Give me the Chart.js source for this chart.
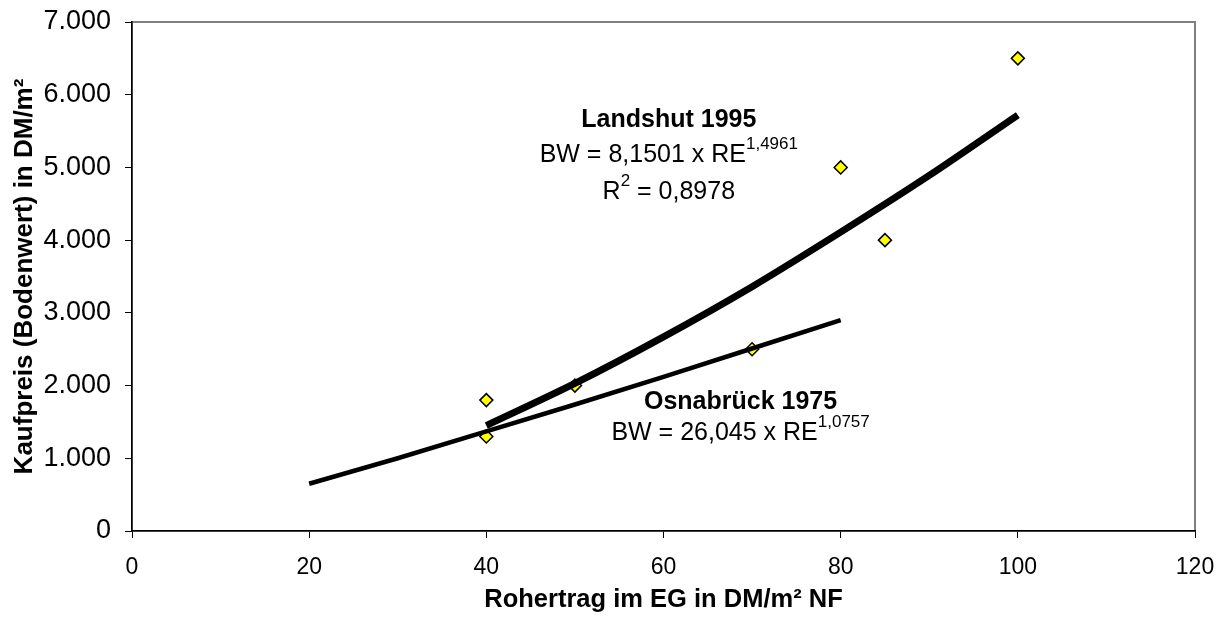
<!DOCTYPE html>
<html>
<head>
<meta charset="utf-8">
<script src="https://cdn.jsdelivr.net/npm/chart.js@4.4.1/dist/chart.umd.min.js"></script>
<style>
  html, body { margin: 0; padding: 0; background: #fff; }
  canvas { display: block; }
</style>
</head>
<body>
<canvas id="bwChart" width="1223" height="626"></canvas>
<script>
// observed sales (Rohertrag / Kaufpreis)
const obsX = [40, 40, 50, 70, 80, 85, 100];
const obsY = [1800, 1300, 2000, 2500, 5000, 4000, 6500];

// trend lines
const landshutX = [40, 50, 60, 70, 80, 90, 100];
const landshutY = [1450, 2030, 2670, 3360, 4110, 4890, 5720];
const osnaX = [20, 30, 40, 50, 60, 70, 80];
const osnaY = [650, 1000, 1370, 1740, 2120, 2510, 2900];

const xTicks = [0, 20, 40, 60, 80, 100, 120];
const yTicks = [0, 1000, 2000, 3000, 4000, 5000, 6000, 7000];

const FONT = '"Liberation Sans", Arial, sans-serif';

function toPoints(xs, ys) {
  return xs.map(function (x, i) { return { x: x, y: ys[i] }; });
}

function fmtDE(v) {
  return String(v).replace(/\B(?=(\d{3})+(?!\d))/g, '.');
}

// plot area frame (gray), axes are drawn black over it
const frame = {
  id: 'frame',
  beforeDraw(chart) {
    const a = chart.chartArea, ctx = chart.ctx;
    ctx.save();
    ctx.strokeStyle = '#808080';
    ctx.lineWidth = 2;
    ctx.strokeRect(a.left, a.top, a.right - a.left, a.bottom - a.top);
    ctx.restore();
  }
};

// equation labels: parts [text, isSuperscript]
const labels = [
  { x: 60.6, y: 5650, bold: true, parts: [['Landshut 1995', false]] },
  { x: 60.6, y: 5170, bold: false, parts: [['BW = 8,1501 x RE', false], ['1,4961', true]] },
  { x: 60.6, y: 4660, bold: false, parts: [['R', false], ['2', true], [' = 0,8978', false]] },
  { x: 68.7, y: 1775, bold: true, parts: [['Osnabrück 1975', false]] },
  { x: 68.7, y: 1340, bold: false, parts: [['BW = 26,045 x RE', false], ['1,0757', true]] }
];

const eqLabels = {
  id: 'eqLabels',
  afterDatasetsDraw(chart) {
    const ctx = chart.ctx;
    const sx = chart.scales.x, sy = chart.scales.y;
    ctx.save();
    ctx.fillStyle = '#000';
    ctx.textBaseline = 'middle';
    ctx.textAlign = 'left';
    labels.forEach(function (lab) {
      const big = (lab.bold ? 'bold ' : '') + '25px ' + FONT;
      const small = '17px ' + FONT;
      let total = 0;
      lab.parts.forEach(function (p) {
        ctx.font = p[1] ? small : big;
        total += ctx.measureText(p[0]).width;
      });
      let px = sx.getPixelForValue(lab.x) - total / 2;
      const py = sy.getPixelForValue(lab.y);
      lab.parts.forEach(function (p) {
        ctx.font = p[1] ? small : big;
        ctx.fillText(p[0], px, p[1] ? py - 11 : py);
        px += ctx.measureText(p[0]).width;
      });
    });
    ctx.restore();
  }
};

var ctx = document.getElementById('bwChart').getContext('2d');
var chart = new Chart(ctx, {
  type: 'scatter',
  data: {
    datasets: [
      {
        label: 'Landshut 1995',
        data: toPoints(landshutX, landshutY),
        showLine: true,
        borderColor: '#000',
        borderWidth: 7,
        tension: 0.3,
        pointRadius: 0,
        pointHoverRadius: 0
      },
      {
        label: 'Osnabrück 1975',
        data: toPoints(osnaX, osnaY),
        showLine: true,
        borderColor: '#000',
        borderWidth: 4.5,
        pointRadius: 0,
        pointHoverRadius: 0
      },
      {
        label: 'Kauffälle',
        data: toPoints(obsX, obsY),
        pointStyle: 'rectRot',
        pointRadius: 6.5,
        pointBackgroundColor: '#ffff00',
        pointBorderColor: '#000',
        pointBorderWidth: 1.5
      }
    ]
  },
  options: {
    responsive: false,
    animation: false,
    layout: { autoPadding: false, padding: { left: 0, top: 22, right: 28, bottom: 0 } },
    plugins: {
      legend: { display: false },
      tooltip: { enabled: false }
    },
    scales: {
      x: {
        type: 'linear',
        min: 0,
        max: 120,
        afterFit: function (s) {
          s.height = 95;
          s.paddingLeft = 0;
          s.paddingRight = 0;
        },
        afterBuildTicks: function (s) { s.ticks = xTicks.map(function (v) { return { value: v }; }); },
        grid: { drawOnChartArea: false, drawTicks: true, tickLength: 7, color: '#000' },
        border: { display: true, color: '#000', width: 1.5 },
        ticks: { color: '#000', padding: 16, font: { family: FONT, size: 23 } },
        title: {
          display: true,
          text: 'Rohertrag im EG in DM/m² NF',
          color: '#000',
          font: { family: FONT, size: 25.5, weight: 'bold' },
          padding: { bottom: 10.5 }
        }
      },
      y: {
        type: 'linear',
        min: 0,
        max: 7000,
        afterFit: function (s) {
          s.width = 132;
          s.paddingTop = 0;
          s.paddingBottom = 0;
        },
        afterBuildTicks: function (s) { s.ticks = yTicks.map(function (v) { return { value: v }; }); },
        grid: { drawOnChartArea: false, drawTicks: true, tickLength: 7, color: '#000' },
        border: { display: true, color: '#000', width: 1.5 },
        ticks: {
          color: '#000',
          padding: 14,
          font: { family: FONT, size: 27 },
          callback: function (v) { return fmtDE(v); }
        },
        title: {
          display: true,
          text: 'Kaufpreis (Bodenwert) in DM/m²',
          color: '#000',
          font: { family: FONT, size: 26, weight: 'bold' },
          padding: { top: 9.5 }
        }
      }
    }
  },
  plugins: [frame, eqLabels]
});
</script>
</body>
</html>
